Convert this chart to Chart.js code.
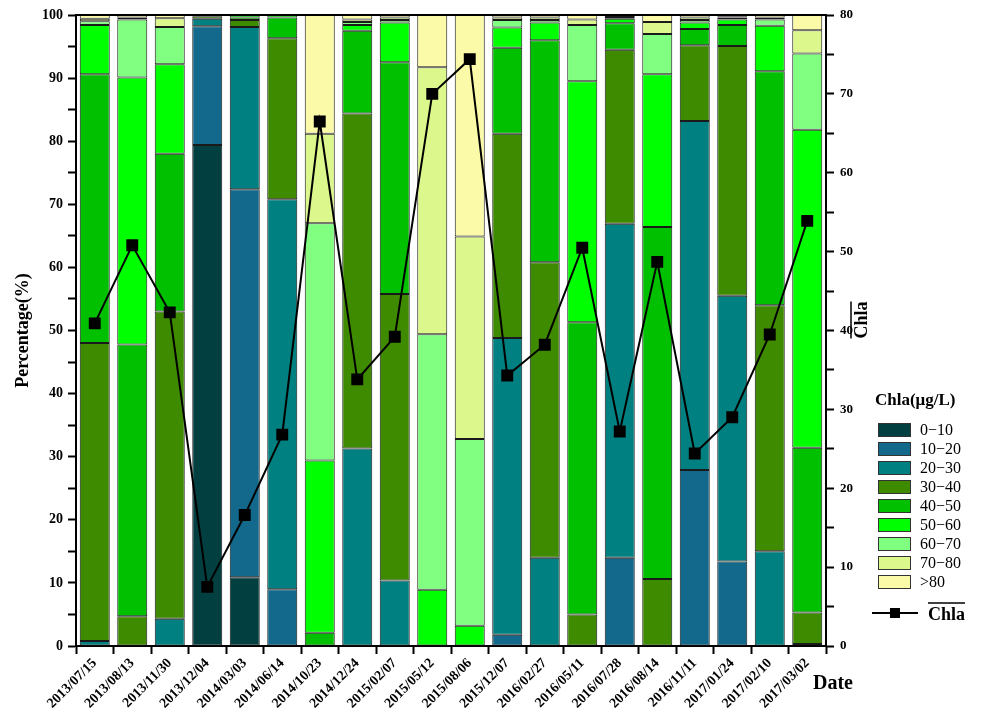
<!DOCTYPE html>
<html>
<head>
<meta charset="utf-8">
<script src="https://cdn.jsdelivr.net/npm/chart.js@4"></script>
<style>
  body { margin: 0; background: #fff; }
  #wrap { width: 981px; height: 716px; }
</style>
</head>
<body>
<div id="wrap"><canvas id="myChart" width="981" height="716"></canvas></div>
<script>
const fechas = ["2013/07/15", "2013/08/13", "2013/11/30", "2013/12/04", "2014/03/03", "2014/06/14", "2014/10/23", "2014/12/24", "2015/02/07", "2015/05/12",
  "2015/08/06", "2015/12/07", "2016/02/27", "2016/05/11", "2016/07/28", "2016/08/14", "2016/11/11", "2017/01/24", "2017/02/10", "2017/03/02"];

const rangos = ["0\u221210", "10\u221220", "20\u221230", "30\u221240", "40\u221250", "50\u221260", "60\u221270", "70\u221280", ">80"];
const colores = ["#023f40", "#12698c", "#008080", "#3f8b00", "#00c000", "#00ff00", "#80ff80", "#dcf78c", "#fbfaa8"];

// porcentaje de cada rango por fecha
const r0_10 = [0, 0, 0, 79.4, 10.9, 0, 0, 0, 0, 0, 0, 0, 0, 0, 0, 0, 0, 0, 0, 0];
const r10_20 = [0, 0, 0, 18.8, 61.5, 9, 0, 0, 0, 0, 0, 1.8, 0, 0, 14, 0, 27.9, 13.4, 0, 0];
const r20_30 = [0.8, 0, 4.3, 1.2, 25.7, 61.8, 0, 31.3, 10.4, 0, 0, 47, 14, 0, 52.9, 0, 55.3, 42.1, 15, 0.3];
const r30_40 = [47.2, 4.7, 48.7, 0.4, 1.1, 25.5, 0, 53.1, 45.4, 0, 0, 32.4, 46.8, 5, 27.6, 10.6, 12, 39.6, 39, 5];
const r40_50 = [42.6, 43.1, 25, 0.2, 0.4, 3.3, 2.1, 13.1, 36.7, 0, 0, 13.6, 35.2, 46.3, 4.2, 55.8, 2.6, 3.3, 37.1, 26.1];
const r50_60 = [7.8, 42.3, 14.2, 0, 0.4, 0.4, 27.3, 0.9, 6.3, 8.9, 3.2, 3.2, 2.8, 38.2, 0.7, 24.2, 1, 0.9, 7.2, 50.4];
const r60_70 = [0.6, 9.2, 5.9, 0, 0, 0, 37.6, 0.5, 0.4, 40.5, 29.6, 1.2, 0.4, 8.9, 0.3, 6.4, 0.4, 0.3, 1, 12.1];
const r70_80 = [0.4, 0.3, 1.4, 0, 0, 0, 14.2, 0.4, 0.4, 42.3, 32.1, 0.4, 0.4, 0.9, 0.3, 1.9, 0.4, 0.2, 0.3, 3.7];
const r80 = [0.6, 0.4, 0.5, 0, 0, 0, 18.8, 0.7, 0.4, 8.3, 35.1, 0.4, 0.4, 0.7, 0, 1.1, 0.4, 0.2, 0.4, 2.4];

// media de Chla (eje derecho)
const chlaMedia = [40.9, 50.8, 42.3, 7.5, 16.6, 26.8, 66.5, 33.8, 39.2, 70, 74.4, 34.3, 38.2, 50.5, 27.2, 48.7, 24.4, 29, 39.5, 53.9];

const porcentajes = [r0_10, r10_20, r20_30, r30_40, r40_50, r50_60, r60_70, r70_80, r80];

const serif = "'Liberation Serif', 'Times New Roman', serif";

const barras = porcentajes.map((serie, i) => ({
  type: "bar",
  label: rangos[i],
  data: serie,
  backgroundColor: colores[i],
  borderColor: "#1a1a1a",
  borderWidth: 1,
  borderSkipped: false,
  barPercentage: 0.8,
  categoryPercentage: 1,
  yAxisID: "y",
  order: 1,
}));

// textos, marco y leyenda dibujados a mano
const extras = {
  id: "extras",
  afterDraw(chart) {
    const ctx = chart.ctx;
    const a = chart.chartArea;
    ctx.save();
    ctx.strokeStyle = "#000";
    ctx.lineWidth = 2;
    ctx.beginPath();
    ctx.moveTo(a.left, a.top);
    ctx.lineTo(a.right, a.top);
    ctx.stroke();

    ctx.fillStyle = "#000";
    // titulo eje izquierdo
    ctx.save();
    ctx.translate(23, (a.top + a.bottom) / 2);
    ctx.rotate(-Math.PI / 2);
    ctx.font = "bold 18px " + serif;
    ctx.textAlign = "center";
    ctx.textBaseline = "middle";
    ctx.fillText("Percentage(%)", 0, 0);
    ctx.restore();

    // titulo eje derecho con barra
    ctx.save();
    ctx.translate(862, 320);
    ctx.rotate(-Math.PI / 2);
    ctx.font = "bold 18px " + serif;
    ctx.textAlign = "center";
    ctx.textBaseline = "middle";
    ctx.fillText("Chla", 0, 0);
    const w = ctx.measureText("Chla").width;
    ctx.lineWidth = 1.5;
    ctx.beginPath();
    ctx.moveTo(-w / 2, -11);
    ctx.lineTo(w / 2, -11);
    ctx.stroke();
    ctx.restore();

    // "Date"
    ctx.font = "bold 20px " + serif;
    ctx.textAlign = "left";
    ctx.textBaseline = "middle";
    ctx.fillText("Date", 813, 684);

    // leyenda
    ctx.font = "bold 17px " + serif;
    ctx.fillText("Chla(\u03bcg/L)", 875, 401);
    ctx.font = "16px " + serif;
    rangos.forEach((r, i) => {
      const y = 423 + i * 19;
      ctx.fillStyle = colores[i];
      ctx.fillRect(878, y, 33, 14);
      ctx.strokeStyle = "#333";
      ctx.lineWidth = 1;
      ctx.strokeRect(878.5, y + 0.5, 32, 13);
      ctx.fillStyle = "#000";
      ctx.fillText(r, 920, y + 8);
    });
    const yl = 613;
    ctx.strokeStyle = "#000";
    ctx.lineWidth = 2;
    ctx.beginPath();
    ctx.moveTo(872, yl);
    ctx.lineTo(918, yl);
    ctx.stroke();
    ctx.fillRect(890, yl - 5, 10, 10);
    ctx.font = "bold 18px " + serif;
    ctx.fillText("Chla", 928, yl + 2);
    const wl = ctx.measureText("Chla").width;
    ctx.beginPath();
    ctx.moveTo(928, yl - 10);
    ctx.lineTo(928 + wl, yl - 10);
    ctx.lineWidth = 1.5;
    ctx.stroke();
    ctx.restore();
  },
};

new Chart(document.getElementById("myChart"), {
  data: {
    labels: fechas,
    datasets: [
      {
        type: "line",
        label: "Chla",
        data: chlaMedia,
        borderColor: "#000",
        backgroundColor: "#000",
        borderWidth: 2,
        pointStyle: "rect",
        pointRadius: 7,
        pointHoverRadius: 7,
        yAxisID: "y1",
        order: 0,
      },
      ...barras,
    ],
  },
  options: {
    responsive: false,
    animation: false,
    layout: { padding: { top: 15 } },
    plugins: {
      legend: { display: false },
      tooltip: { enabled: false },
    },
    scales: {
      x: {
        stacked: true,
        afterFit: (s) => { s.height = 70; },
        grid: { drawOnChartArea: false, tickLength: 8, color: "#000", tickWidth: 2 },
        border: { color: "#000", width: 2 },
        ticks: {
          color: "#000",
          font: { family: serif, size: 14, weight: "bold" },
          maxRotation: 45,
          minRotation: 45,
          autoSkip: false,
          padding: 1,
        },
      },
      y: {
        stacked: true,
        min: 0,
        max: 100,
        afterFit: (s) => { s.width = 76; },
        grid: { drawOnChartArea: false, tickLength: 8, color: "#000", tickWidth: 2 },
        border: { color: "#000", width: 2 },
        ticks: {
          stepSize: 5,
          color: "#000",
          padding: 5,
          font: { family: serif, size: 14, weight: "bold" },
          callback: (v) => (v % 10 === 0 ? v : ""),
        },
      },
      y1: {
        position: "right",
        min: 0,
        max: 80,
        afterFit: (s) => { s.width = 155; },
        grid: { drawOnChartArea: false, tickLength: 8, color: "#000", tickWidth: 2 },
        border: { color: "#000", width: 2 },
        ticks: {
          stepSize: 5,
          color: "#000",
          padding: 6,
          font: { family: serif, size: 13, weight: "bold" },
          callback: (v) => (v % 10 === 0 ? v : ""),
        },
      },
    },
  },
  plugins: [extras],
});
</script>
</body>
</html>
